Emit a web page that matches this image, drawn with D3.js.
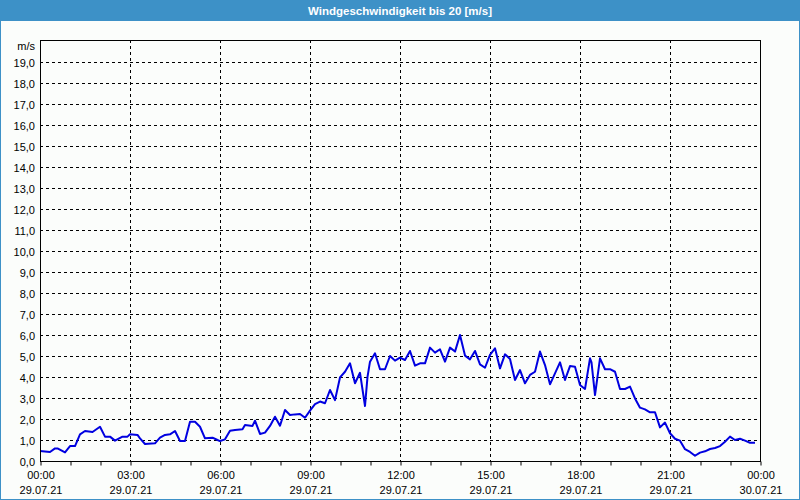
<!DOCTYPE html>
<html>
<head>
<meta charset="utf-8">
<script src="https://cdn.jsdelivr.net/npm/d3@7"></script>
<style>
html,body{margin:0;padding:0;background:#fff;}
svg{display:block;}
text{font-family:"Liberation Sans",Arial,sans-serif;}
</style>
</head>
<body>
<svg id="chart" width="800" height="500"></svg>
<script>
const title = "Windgeschwindigkeit bis 20 [m/s]";
const unitLabel = "m/s";
const yTicks = [0,1,2,3,4,5,6,7,8,9,10,11,12,13,14,15,16,17,18,19];
const xTickMinutes = [0,180,360,540,720,900,1080,1260,1440];
const xTickTimes = ["00:00","03:00","06:00","09:00","12:00","15:00","18:00","21:00","00:00"];
const xTickDates = ["29.07.21","29.07.21","29.07.21","29.07.21","29.07.21","29.07.21","29.07.21","29.07.21","30.07.21"];
const times = ["00:00","00:20","00:30","00:35","00:50","01:00","01:10","01:20","01:30","01:45",
"02:00","02:10","02:20","02:30","02:45","02:55","03:00","03:15","03:20","03:30",
"03:50","04:00","04:10","04:20","04:30","04:40","04:50","05:00","05:10","05:20",
"05:30","05:45","05:55","06:00","06:10","06:20","06:30","06:45","06:50","07:05",
"07:10","07:20","07:30","07:40","07:50","08:00","08:10","08:20","08:30","08:40",
"08:50","09:00","09:10","09:20","09:30","09:40","09:50","10:00","10:10","10:20",
"10:30","10:40","10:50","10:55","11:00","11:10","11:20","11:30","11:40","11:50",
"12:00","12:10","12:20","12:30","12:40","12:50","13:00","13:10","13:20","13:30",
"13:40","13:50","14:00","14:10","14:20","14:30","14:40","14:50","15:00","15:10",
"15:20","15:30","15:40","15:50","16:00","16:10","16:20","16:30","16:40","16:50",
"17:00","17:10","17:20","17:30","17:40","17:50","18:00","18:10","18:20","18:23",
"18:30","18:40","18:50","19:00","19:10","19:20","19:30","19:40","19:50","20:00",
"20:10","20:20","20:30","20:40","20:50","21:00","21:10","21:20","21:30","21:40",
"21:50","22:00","22:10","22:20","22:30","22:40","22:50","23:00","23:10","23:20",
"23:30","23:40","23:50"];
const speeds = [0.48,0.43,0.6,0.6,0.41,0.71,0.71,1.27,1.43,1.38,
1.63,1.16,1.16,0.97,1.16,1.16,1.27,1.24,1.08,0.81,
0.84,1.11,1.24,1.27,1.43,0.95,0.95,1.87,1.87,1.63,
1.08,1.11,1.0,0.95,1.03,1.44,1.48,1.51,1.71,1.67,
1.92,1.29,1.35,1.67,2.11,1.68,2.43,2.19,2.22,2.24,
2.06,2.4,2.71,2.83,2.75,3.38,2.9,3.98,4.25,4.65,
3.7,4.2,2.62,4.01,4.73,5.13,4.37,4.37,5.0,4.78,
4.92,4.81,5.24,4.54,4.65,4.65,5.4,5.16,5.32,4.73,
5.4,5.21,6.0,5.02,4.84,5.24,4.6,4.44,5.05,5.37,
4.41,5.08,4.86,3.86,4.33,3.7,4.1,4.25,5.21,4.57,
3.65,4.17,4.7,3.86,4.52,4.49,3.62,3.43,4.89,4.7,
3.14,4.89,4.37,4.37,4.25,3.43,3.43,3.54,2.98,2.54,
2.46,2.32,2.32,1.6,1.83,1.32,1.06,0.97,0.56,0.43,
0.25,0.4,0.46,0.57,0.62,0.71,0.92,1.16,1.0,1.06,
0.97,0.87,0.87];

const toMin = s => { const [h,m] = s.split(":").map(Number); return h*60+m; };
const data = times.map((t,i)=>({m:toMin(t), v:speeds[i]}));

const svg = d3.select("#chart");
const W = 800, H = 500;
const L = 40, R = 760, T = 40, B = 461;

// background
svg.append("rect").attr("x",0).attr("y",0).attr("width",W).attr("height",H).attr("fill","#fbfdfb");
// title bar
svg.append("rect").attr("x",0).attr("y",0).attr("width",W).attr("height",21).attr("fill","#3d91c7");
svg.append("text").attr("x",400).attr("y",15).attr("text-anchor","middle")
  .attr("fill","#fff").attr("font-size","11.5px").attr("font-weight","bold").text(title);
// outer border
svg.append("rect").attr("x",0.5).attr("y",0.5).attr("width",W-1).attr("height",H-1)
  .attr("fill","none").attr("stroke","#3d91c7").attr("stroke-width",1);

const x = d3.scaleLinear().domain([0,1440]).range([L,R]);
const y = d3.scaleLinear().domain([0,20]).range([B,B-420]);

const crisp = v => Math.round(v)+0.5;

// horizontal grid
svg.append("g").selectAll("line").data(yTicks.filter(d=>d>0)).join("line")
  .attr("x1",L).attr("x2",R).attr("y1",d=>crisp(y(d))).attr("y2",d=>crisp(y(d)))
  .attr("stroke","#000").attr("stroke-dasharray","3,3").attr("stroke-width",1);
// vertical grid
svg.append("g").selectAll("line").data(xTickMinutes.filter(d=>d>0&&d<1440)).join("line")
  .attr("x1",d=>crisp(x(d))).attr("x2",d=>crisp(x(d))).attr("y1",T).attr("y2",B)
  .attr("stroke","#000").attr("stroke-dasharray","3,3").attr("stroke-width",1);

// line
const line = d3.line().x(d=>x(d.m)).y(d=>y(d.v));
svg.append("path").datum(data).attr("d",line).attr("fill","none")
  .attr("stroke","#0000e0").attr("stroke-width",2).attr("stroke-linejoin","round");

// frame
svg.append("rect").attr("x",L+0.5).attr("y",T+0.5).attr("width",R-L).attr("height",B-T)
  .attr("fill","none").attr("stroke","#000").attr("stroke-width",1);

// x axis: hourly minor ticks
const hourly = d3.range(0,1441,60);
const xAxisMinor = d3.axisBottom(x).tickValues(hourly).tickSize(4).tickFormat("");
const gx = svg.append("g").attr("transform",`translate(0.5,${B+0.5})`).call(xAxisMinor);
gx.select(".domain").remove();
gx.selectAll("line").attr("stroke","#000");

// x axis labels
const xAxisMajor = d3.axisBottom(x).tickValues(xTickMinutes).tickSize(0).tickPadding(0)
  .tickFormat((d,i)=>xTickTimes[i]);
const gx2 = svg.append("g").attr("transform",`translate(0.5,${B})`).call(xAxisMajor);
gx2.select(".domain").remove();
gx2.selectAll("text").attr("font-size","11px").attr("fill","#000")
  .attr("font-family","'Liberation Sans',Arial,sans-serif")
  .attr("dy",null).attr("y",18);
gx2.selectAll(".tick").append("text").attr("y",33).attr("fill","#000")
  .attr("font-size","11px").attr("text-anchor","middle")
  .attr("font-family","'Liberation Sans',Arial,sans-serif")
  .text((d,i)=>xTickDates[i]);

// y axis labels
const yAxis = d3.axisLeft(y).tickValues(yTicks).tickSize(0).tickPadding(5)
  .tickFormat(d=>d.toFixed(1).replace(".",","));
const gy = svg.append("g").attr("transform",`translate(${L},0.5)`).call(yAxis);
gy.select(".domain").remove();
gy.selectAll("text").attr("font-size","11px").attr("fill","#000")
  .attr("font-family","'Liberation Sans',Arial,sans-serif");

svg.append("text").attr("x",L-5).attr("y",y(20)+9).attr("text-anchor","end")
  .attr("font-size","11px").attr("fill","#000").text(unitLabel);
</script>
</body>
</html>
